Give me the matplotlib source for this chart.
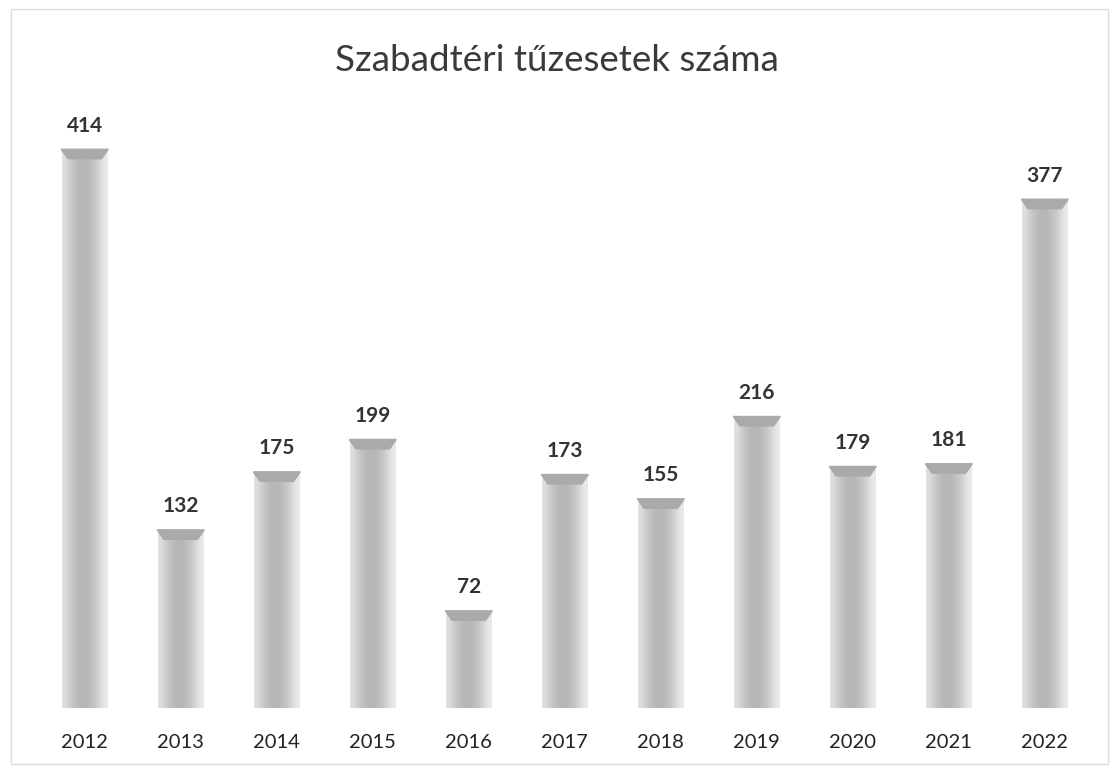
import matplotlib.pyplot as plt
import numpy as np
from matplotlib.patches import Polygon, Rectangle

years = ['2012', '2013', '2014', '2015', '2016', '2017', '2018', '2019', '2020', '2021', '2022']
fires = [414, 132, 175, 199, 72, 173, 155, 216, 179, 181, 377]

plt.rcParams['font.family'] = ['Lato', 'DejaVu Sans']

fig = plt.figure(figsize=(11.14, 7.7), dpi=100)
ax = fig.add_axes([0.033, 0.0805, 0.948, 0.787])

x = np.arange(len(years))
w = 0.47
bars = ax.bar(x, fires, width=w, color='#cfcfcf', edgecolor='none', zorder=2)

# horizontal shading inside each column
grad = np.array([[0.88, 0.79, 0.73, 0.71, 0.72, 0.76, 0.83, 0.92]])
for b in bars:
    x0, h = b.get_x(), b.get_height()
    im = ax.imshow(grad, cmap='gray', vmin=0, vmax=1, aspect='auto',
                   extent=(x0, x0 + w, 0, h), zorder=3, interpolation='bicubic')
    im.set_clip_path(b)
    # darker top cap
    cap = 7
    ax.add_patch(Polygon([(x0 - 0.01, h), (x0 + w + 0.01, h),
                          (x0 + w - 0.06, h - cap), (x0 + 0.06, h - cap)],
                         closed=True, color='#aaaaaa', zorder=4))

for xi, v in zip(x, fires):
    ax.text(xi, v + 10, str(v), ha='center', va='bottom', fontsize=15,
            color='#333333', fontweight='bold')

ax.set_xlim(-0.5, len(years) - 0.5)
ax.set_ylim(0, 449)
ax.set_xticks(x)
ax.set_xticklabels(years, fontsize=14.5, color='#222222')
ax.tick_params(axis='x', length=0, pad=19)
ax.set_yticks([])
for s in ax.spines.values():
    s.set_visible(False)

fig.text(0.5, 0.922, 'Szabadtéri tűzesetek száma', ha='center', va='center',
         fontsize=26.5, color='#3a3a3a')

fig.patches.append(Rectangle((0.01, 0.008), 0.985, 0.98, transform=fig.transFigure,
                             fill=False, edgecolor='#dddddd', linewidth=1))

fig.savefig('out.png', dpi=100)
